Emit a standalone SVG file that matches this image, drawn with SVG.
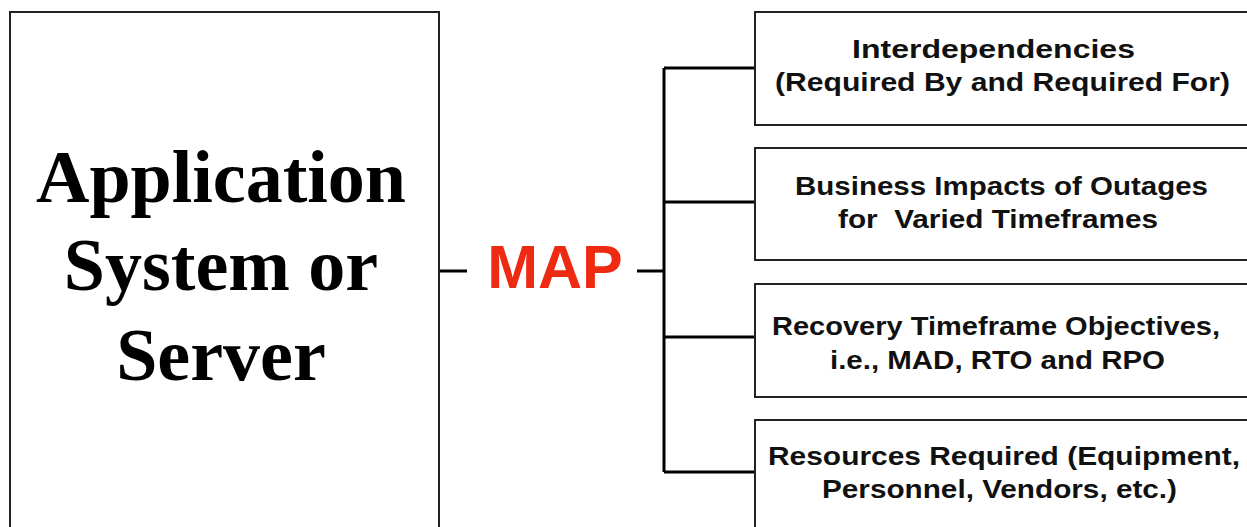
<svg xmlns="http://www.w3.org/2000/svg" width="1247" height="527" viewBox="0 0 1247 527">
<style>
.box{fill:#fff;stroke:#222;stroke-width:2}
.conn{fill:none;stroke:#000;stroke-width:3}
.big{font-family:"Liberation Serif",serif;font-weight:bold;font-size:74px;fill:#000;text-anchor:middle}
.lbl{font-family:"Liberation Sans",Arial,sans-serif;font-weight:bold;font-size:25px;fill:#111}
.map{font-family:"Liberation Sans",Arial,sans-serif;font-weight:bold;font-size:61px;fill:#ee2a12;text-anchor:middle}
</style>
<rect width="1247" height="527" fill="#fff"/>
<g id="connectors">
<path class="conn" d="M439 271H467M637 271H664M664 68V472M664 68H755M664 202H755M664 337H755M664 472H755"/>
</g>
<g id="app">
<rect class="box" x="10" y="12" width="429" height="530"/>
<text class="big" x="221" y="202">Application</text>
<text class="big" x="221" y="290">System or</text>
<text class="big" x="221" y="380">Server</text>
</g>
<g id="map">
<text class="map" x="555" y="288">MAP</text>
</g>
<g id="n1">
<rect class="box" x="755" y="12" width="500" height="113"/>
<text class="lbl" x="852" y="58" textLength="283" lengthAdjust="spacingAndGlyphs">Interdependencies</text>
<text class="lbl" x="775" y="91" textLength="455" lengthAdjust="spacingAndGlyphs">(Required By and Required For)</text>
</g>
<g id="n2">
<rect class="box" x="755" y="148" width="500" height="112"/>
<text class="lbl" x="795" y="195" textLength="413" lengthAdjust="spacingAndGlyphs">Business Impacts of Outages</text>
<text class="lbl" x="838" y="228" textLength="320" lengthAdjust="spacingAndGlyphs" xml:space="preserve">for  Varied Timeframes</text>
</g>
<g id="n3">
<rect class="box" x="755" y="284" width="500" height="113"/>
<text class="lbl" x="772" y="335" textLength="448" lengthAdjust="spacingAndGlyphs">Recovery Timeframe Objectives,</text>
<text class="lbl" x="830" y="369" textLength="335" lengthAdjust="spacingAndGlyphs">i.e., MAD, RTO and RPO</text>
</g>
<g id="n4">
<rect class="box" x="755" y="420" width="500" height="130"/>
<text class="lbl" x="768" y="465" textLength="472" lengthAdjust="spacingAndGlyphs">Resources Required (Equipment,</text>
<text class="lbl" x="822" y="498" textLength="355" lengthAdjust="spacingAndGlyphs">Personnel, Vendors, etc.)</text>
</g>
</svg>
